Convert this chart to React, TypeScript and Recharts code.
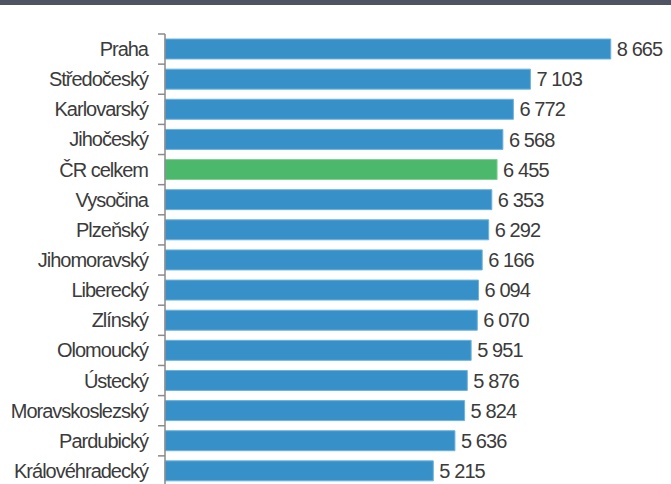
import React from 'react';
import { BarChart, Bar, XAxis, YAxis, Cell, LabelList } from 'recharts';

const regions = [
  'Praha',
  'Středočeský',
  'Karlovarský',
  'Jihočeský',
  'ČR celkem',
  'Vysočina',
  'Plzeňský',
  'Jihomoravský',
  'Liberecký',
  'Zlínský',
  'Olomoucký',
  'Ústecký',
  'Moravskoslezský',
  'Pardubický',
  'Královéhradecký',
];

const values = [8665, 7103, 6772, 6568, 6455, 6353, 6292, 6166, 6094, 6070, 5951, 5876, 5824, 5636, 5215];

const totalLabel = 'ČR celkem';

const chartData = regions.map((name, i) => ({ name, value: values[i] }));

const FONT = '"Liberation Sans Narrow", "Liberation Sans", Arial, sans-serif';
const TEXT = '#3b3b3b';
const AXIS_X = 165;

const formatValue = (v: number) => String(v).replace(/\B(?=(\d{3})+(?!\d))/g, ' ');

// label on the left plus a short tick at the top edge of each band
const RegionTick = (props: any) => {
  const { y, payload } = props;
  const half = 452 / regions.length / 2;
  return (
    <g>
      <line x1={AXIS_X - 7} x2={AXIS_X} y1={y - half} y2={y - half} stroke="#8a8a8a" strokeWidth={1.5} />
      <text
        x={AXIS_X - 17}
        y={y}
        dy={7}
        textAnchor="end"
        fontFamily={FONT}
        fontSize={20}
        letterSpacing={-1}
        fill={TEXT}
      >
        {payload.value}
      </text>
    </g>
  );
};

export default function App() {
  return (
    <div style={{ position: 'absolute', left: 0, top: 0, width: 671, height: 484, overflow: 'hidden', background: '#fff' }}>
      <div style={{ position: 'absolute', left: 0, top: 0, width: 671, height: 5, background: '#4e5461' }} />
      <BarChart
        width={671}
        height={490}
        data={chartData}
        layout="vertical"
        margin={{ top: 34, right: 43, bottom: 4, left: 0 }}
      >
        <XAxis type="number" domain={[0, 9000]} hide />
        <YAxis
          type="category"
          dataKey="name"
          width={AXIS_X}
          axisLine={{ stroke: '#8a8a8a', strokeWidth: 1.5 }}
          tickLine={false}
          interval={0}
          tick={<RegionTick />}
        />
        <Bar dataKey="value" barSize={20} isAnimationActive={false} strokeWidth={1}>
          {chartData.map((d) => (
            <Cell
              key={d.name}
              fill={d.name === totalLabel ? '#4cb86b' : '#3791c8'}
              stroke={d.name === totalLabel ? '#7fcf95' : '#6db3dc'}
            />
          ))}
          <LabelList
            dataKey="value"
            position="right"
            offset={6}
            formatter={(v: any) => formatValue(Number(v))}
            style={{ fontFamily: FONT, fontSize: 20, fill: TEXT, letterSpacing: -0.9 }}
          />
        </Bar>
      </BarChart>
    </div>
  );
}
